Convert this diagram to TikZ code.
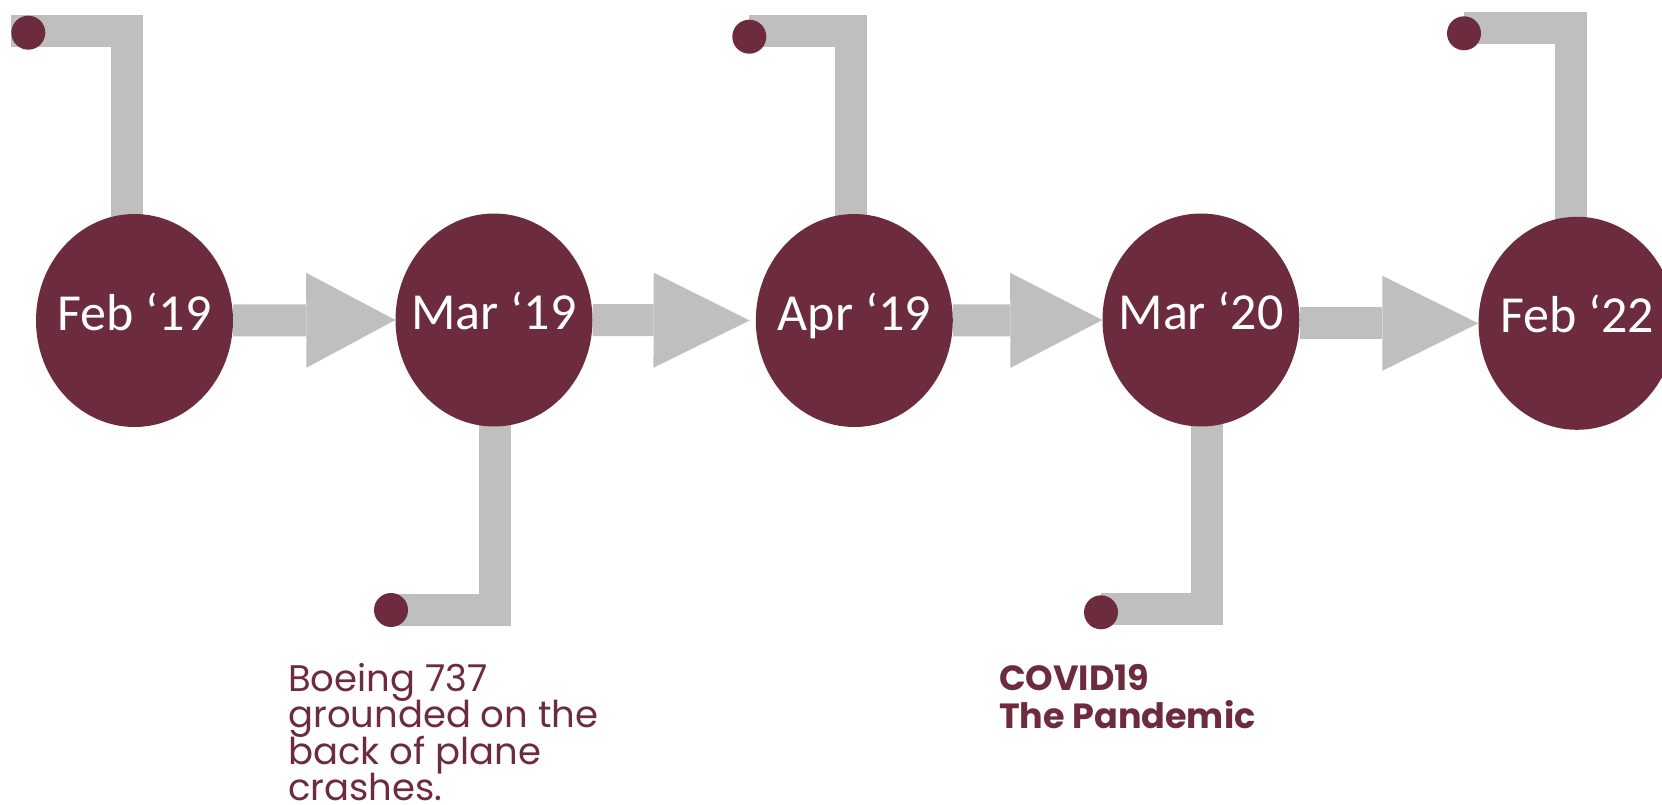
\documentclass[tikz,border=0pt]{standalone}
\usepackage{fontspec}
\setmainfont{Carlito}
\newfontfamily\gothic{Poppins}
\usetikzlibrary{arrows.meta,calc,shapes.geometric}
\definecolor{maroon}{RGB}{109,43,62}
\definecolor{bargray}{RGB}{191,191,191}
\pgfdeclarelayer{bg}
\pgfsetlayers{bg,main}
\newcommand{\evtext}[1]{\makebox[0pt]{#1}}
\newcommand{\tightlines}{\lineskiplimit -50pt\relax}
\begin{document}
\begin{tikzpicture}[x=1pt,y=-1pt,
  event/.style={ellipse, fill=maroon, minimum width=197pt, minimum height=213pt, inner sep=0pt, text=white, font=\fontsize{52}{60}\selectfont, text height=33pt, text depth=14pt},
  dot/.style={circle, fill=maroon, minimum size=34pt, inner sep=0pt},
  bar/.style={draw=bargray, line width=32pt, line cap=butt, line join=miter},
  flow/.style={draw=bargray, line width=32pt, -{Triangle[length=#1 0 0, width=95pt 0 0, line width=0pt]}},
  note/.style={anchor=north west, inner sep=0pt, align=left, text=maroon}
]
\useasboundingbox (0,0) rectangle (1662,805);

\node[event] (e1) at (134.5,320.5) {\evtext{Feb ‘19}};
\node[event] (e2) at (494,320) {\evtext{Mar ‘19}};
\node[event] (e3) at (854.3,320.5) {\evtext{Apr ‘19}};
\node[event] (e4) at (1201,320) {\evtext{Mar ‘20}};
\node[event] (e5) at (1577,323.3) {\evtext{Feb ‘22}};

\node[dot] (d1) at (28.3,32.7) {};
\node[dot] (d2) at (391,610) {};
\node[dot] (d3) at (749.3,36.7) {};
\node[dot] (d4) at (1101,612.3) {};
\node[dot] (d5) at (1464,33.3) {};

\begin{pgfonlayer}{bg}
\draw[bar] ([xshift=-7.5pt]e1.center) |- ([yshift=1.7pt]d1.west);
\draw[bar] ([xshift=0.5pt]e2.center) |- (d2.center);
\draw[bar] ([xshift=-3pt]e3.center) |- ([yshift=5.7pt]d3.center);
\draw[bar] ([xshift=6pt]e4.center) |- ([yshift=3.3pt]d4.center);
\draw[bar] ([xshift=-6pt]e5.center) |- ([yshift=5.6pt]d5.center);

\draw[flow=89pt] (e1.east) -- (e2.west);
\draw[flow=96pt, shorten >=6pt] (e2.east) -- (e3.west);
\draw[flow=92pt] (e3.east) -- (e4.west);
\draw[flow=96pt] (e4.east |- e5.west) -- (e5.west);
\end{pgfonlayer}

\node[note, font=\gothic\fontsize{37}{36.5}\selectfont\tightlines] (n1) at (288,663) {Boeing 737\\grounded on the\\back of plane\\crashes.};
\node[note, font=\gothic\bfseries\fontsize{35}{38.5}\selectfont\tightlines] (n2) at (999,664) {COVID19\\The Pandemic};
\end{tikzpicture}
\end{document}
